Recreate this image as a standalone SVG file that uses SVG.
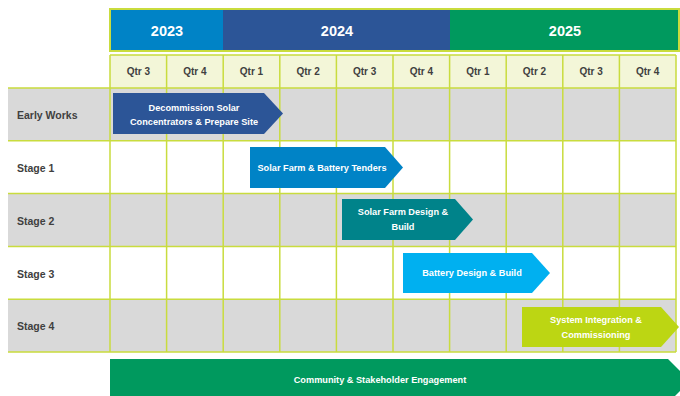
<svg xmlns="http://www.w3.org/2000/svg" width="680" height="396" viewBox="0 0 680 396">
<style>
.yr{font-family:"Liberation Sans",Arial,sans-serif;font-weight:bold;font-size:14.5px;fill:#fff;text-anchor:middle}
.q{font-family:"Liberation Sans",Arial,sans-serif;font-weight:bold;font-size:10px;fill:#404040;text-anchor:middle}
.lbl{font-family:"Liberation Sans",Arial,sans-serif;font-weight:bold;font-size:10.5px;fill:#404040}
.t{font-family:"Liberation Sans",Arial,sans-serif;font-weight:bold;font-size:9.2px;fill:#fff;text-anchor:middle}
.g{stroke:#C9DC3E;stroke-width:1.5;fill:none}
</style>
<rect width="680" height="396" fill="#fff"/>
<g id="years">
<rect x="110" y="9" width="113" height="42" fill="#0083C6"/>
<rect x="223" y="9" width="227" height="42" fill="#2C5597"/>
<rect x="450" y="9" width="229" height="42" fill="#00995E"/>
<rect x="110" y="9" width="569" height="42" fill="none" stroke="#C9DC3E" stroke-width="2"/>
<text class="yr" x="167" y="36">2023</text>
<text class="yr" x="337" y="36">2024</text>
<text class="yr" x="565" y="36">2025</text>
</g>
<g id="background">
<rect x="110" y="55" width="566" height="33" fill="#F3F6D8"/>
<rect x="8" y="88" width="668" height="52.8" fill="#D9D9D9"/>
<rect x="8" y="193.6" width="668" height="52.8" fill="#D9D9D9"/>
<rect x="8" y="299.2" width="668" height="52.8" fill="#D9D9D9"/>
</g>
<g id="grid" class="g">
<path d="M110 55H676M8 88H676M8 140.8H676M8 193.6H676M8 246.4H676M8 299.2H676M8 352H676"/>
<path d="M110 55V352M166.6 55V352M223.2 55V352M279.8 55V352M336.4 55V352M393 55V352M449.6 55V352M506.2 55V352M562.8 55V352M619.4 55V352M676 55V352"/>
</g>
<g id="quarters">
<text class="q" x="138.3" y="75">Qtr 3</text>
<text class="q" x="194.9" y="75">Qtr 4</text>
<text class="q" x="251.5" y="75">Qtr 1</text>
<text class="q" x="308.1" y="75">Qtr 2</text>
<text class="q" x="364.7" y="75">Qtr 3</text>
<text class="q" x="421.3" y="75">Qtr 4</text>
<text class="q" x="477.9" y="75">Qtr 1</text>
<text class="q" x="534.5" y="75">Qtr 2</text>
<text class="q" x="591.1" y="75">Qtr 3</text>
<text class="q" x="647.7" y="75">Qtr 4</text>
</g>
<g id="labels">
<text class="lbl" x="17" y="119">Early Works</text>
<text class="lbl" x="17" y="172">Stage 1</text>
<text class="lbl" x="17" y="225">Stage 2</text>
<text class="lbl" x="17" y="278">Stage 3</text>
<text class="lbl" x="17" y="330">Stage 4</text>
</g>
<g id="task-early">
<polygon points="113,93 264,93 283,113.5 264,134 113,134" fill="#2C5597"/>
<text class="t" x="194" y="111">Decommission Solar</text>
<text class="t" x="194" y="125">Concentrators &amp; Prepare Site</text>
</g>
<g id="task-stage1">
<polygon points="250,147 385,147 403,167.5 385,188 250,188" fill="#0083C6"/>
<text class="t" x="322" y="171">Solar Farm &amp; Battery Tenders</text>
</g>
<g id="task-stage2">
<polygon points="342,199 455,199 473,219.5 455,240 342,240" fill="#00838A"/>
<text class="t" x="403" y="215">Solar Farm Design &amp;</text>
<text class="t" x="403" y="230">Build</text>
</g>
<g id="task-stage3">
<polygon points="403,253 532,253 550,273 532,293 403,293" fill="#00B0F0"/>
<text class="t" x="472" y="276">Battery Design &amp; Build</text>
</g>
<g id="task-stage4">
<polygon points="522,307 661,307 679,327 661,347 522,347" fill="#BCD613"/>
<text class="t" x="596" y="323">System Integration &amp;</text>
<text class="t" x="596" y="338">Commissioning</text>
</g>
<g id="task-community">
<polygon points="110,359 668,359 690,381 668,403 110,403" fill="#00995E"/>
<text class="t" x="380" y="383">Community &amp; Stakeholder Engagement</text>
</g>
</svg>
